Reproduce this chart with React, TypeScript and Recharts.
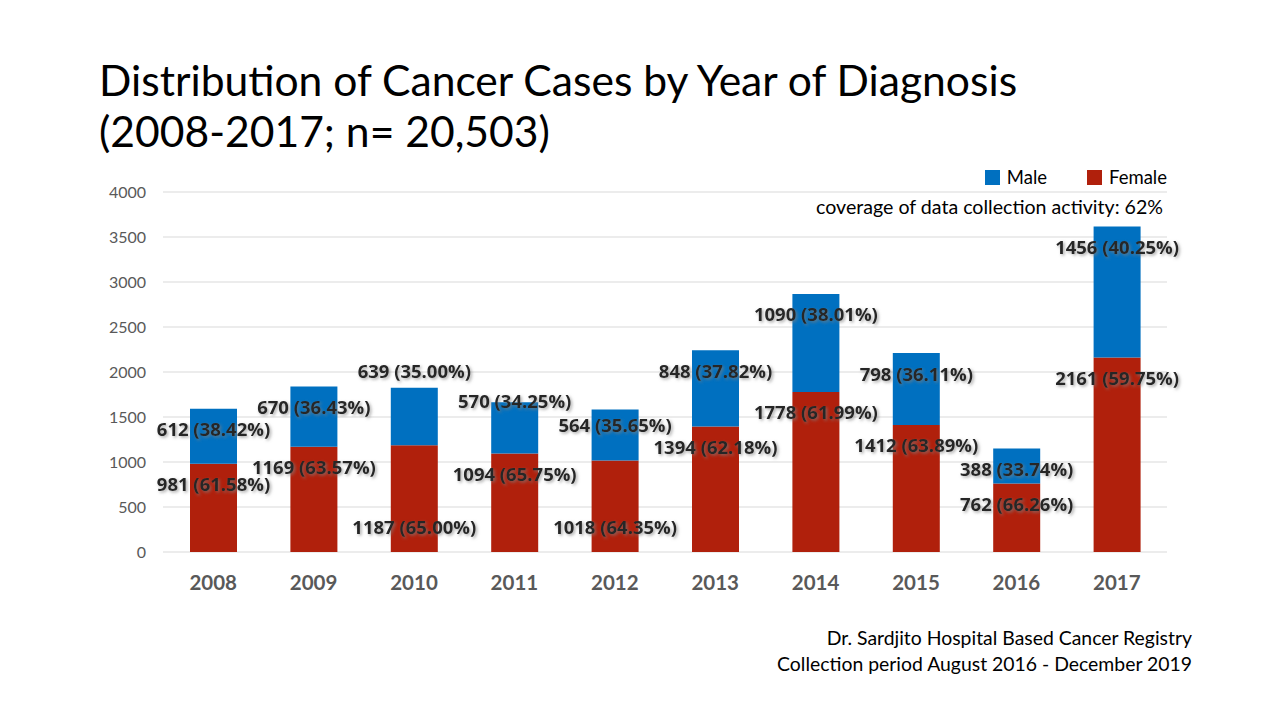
import { BarChart, Bar, XAxis, YAxis, CartesianGrid } from 'recharts';

const years = ['2008', '2009', '2010', '2011', '2012', '2013', '2014', '2015', '2016', '2017'];
const female = [981, 1169, 1187, 1094, 1018, 1394, 1778, 1412, 762, 2161];
const male = [612, 670, 639, 570, 564, 848, 1090, 798, 388, 1456];
const femalePct = ['61.58', '63.57', '65.00', '65.75', '64.35', '62.18', '61.99', '63.89', '66.26', '59.75'];
const malePct = ['38.42', '36.43', '35.00', '34.25', '35.65', '37.82', '38.01', '36.11', '33.74', '40.25'];
const yTicks = [0, 500, 1000, 1500, 2000, 2500, 3000, 3500, 4000];

const data = years.map((year, i) => ({ year, female: female[i], male: male[i] }));

const BLUE = '#0070C0';
const RED = '#B0200C';
const FONT = 'Lato, "Open Sans", sans-serif';
const LABEL_FONT = '"Open Sans", Lato, sans-serif';

// a few labels were dragged around by hand in the original slide
const femaleAtBase = ['2010', '2012'];
const maleNudge: Record<string, number> = { '2010': -37, '2011': -22, '2012': -5 };

const makeLabel = (series: 'female' | 'male') => (props: any) => {
  const { x, y, width, height, index } = props;
  const year = years[index];
  const value = series === 'female' ? female[index] : male[index];
  const pct = series === 'female' ? femalePct[index] : malePct[index];
  let cy = y + 20;
  if (series === 'female' && femaleAtBase.includes(year)) cy = y + height - 26;
  if (series === 'male' && maleNudge[year] !== undefined) cy = y + 20 + maleNudge[year];
  return (
    <text
      x={x + width / 2}
      y={cy}
      textAnchor="middle"
      dominantBaseline="central"
      fontFamily={LABEL_FONT}
      fontWeight={700}
      fontSize={18.5}
      fill="#262626"
      filter="url(#lblShadow)"
    >
      {`${value} (${pct}%)`}
    </text>
  );
};

const legendItems = [
  { name: 'Male', color: BLUE },
  { name: 'Female', color: RED },
];

const App = () => (
  <div
    style={{
      position: 'absolute',
      left: 0,
      top: 0,
      width: 1280,
      height: 720,
      background: '#fff',
      fontFamily: FONT,
      overflow: 'hidden',
    }}
  >
    <svg width={0} height={0} style={{ position: 'absolute' }}>
      <defs>
        <filter id="lblShadow" x="-20%" y="-50%" width="140%" height="200%">
          <feDropShadow dx="1.5" dy="1.5" stdDeviation="1.5" floodColor="#7f7f7f" floodOpacity="0.7" />
        </filter>
      </defs>
    </svg>

    <div
      style={{
        position: 'absolute',
        left: 99,
        top: 54,
        fontSize: 42.6,
        lineHeight: '51px',
        color: '#000',
        fontFamily: FONT,
        whiteSpace: 'nowrap',
      }}
    >
      Distribution of Cancer Cases by Year of Diagnosis
      <br />
      (2008-2017; n= 20,503)
    </div>

    <BarChart
      width={1280}
      height={720}
      data={data}
      margin={{ top: 192, right: 113, bottom: 128, left: 103 }}
      style={{ position: 'absolute', left: 0, top: 0 }}
    >
      <CartesianGrid vertical={false} stroke="#d9d9d9" />
      <XAxis
        dataKey="year"
        axisLine={false}
        tickLine={false}
        height={40}
        tickMargin={17}
        tick={{ fontSize: 20.5, fontWeight: 700, fill: '#595959', fontFamily: FONT }}
      />
      <YAxis
        domain={[0, 4000]}
        ticks={yTicks}
        axisLine={false}
        tickLine={false}
        width={60}
        tickMargin={11}
        tick={{ fontSize: 16, fill: '#595959', fontFamily: FONT }}
      />
      <Bar dataKey="female" name="Female" stackId="a" fill={RED} barSize={47} isAnimationActive={false} label={makeLabel('female')} />
      <Bar dataKey="male" name="Male" stackId="a" fill={BLUE} barSize={47} isAnimationActive={false} label={makeLabel('male')} />
    </BarChart>

    <div
      style={{
        position: 'absolute',
        right: 113,
        top: 166,
        display: 'flex',
        gap: 40,
        fontFamily: FONT,
        fontSize: 18.5,
        color: '#000',
      }}
    >
      {legendItems.map((item) => (
        <div key={item.name} style={{ display: 'flex', alignItems: 'center', gap: 7 }}>
          <span style={{ width: 15, height: 15, background: item.color, display: 'inline-block' }} />
          <span>{item.name}</span>
        </div>
      ))}
    </div>

    <div
      style={{
        position: 'absolute',
        right: 117,
        top: 195,
        fontSize: 19.6,
        color: '#000',
        fontFamily: FONT,
        whiteSpace: 'nowrap',
      }}
    >
      coverage of data collection activity: 62%
    </div>

    <div
      style={{
        position: 'absolute',
        right: 88,
        top: 625,
        fontSize: 19.4,
        lineHeight: '26px',
        color: '#000',
        textAlign: 'right',
        fontFamily: FONT,
        whiteSpace: 'nowrap',
      }}
    >
      Dr. Sardjito Hospital Based Cancer Registry
      <br />
      Collection period August 2016 - December 2019
    </div>
  </div>
);

export default App;
